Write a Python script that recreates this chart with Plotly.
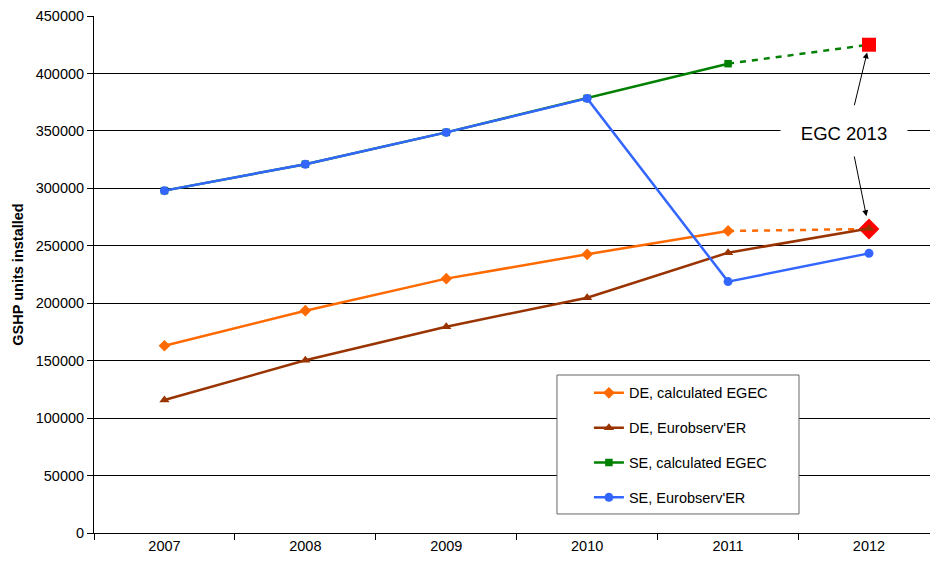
import plotly.graph_objects as go

years = ["2007", "2008", "2009", "2010", "2011", "2012"]
de_calc_egec = [163000, 193500, 221400, 242600, 262900]
de_eurobserver = [115800, 150300, 179600, 204800, 244000, 265000]
se_calc_egec = [298000, 321000, 348700, 378300, 408500]
se_eurobserver = [298000, 321000, 348700, 378300, 218800, 243400]
egc2013_year = "2012"
egc2013_se = 425000
egc2013_de = 264600

FONT = "Arial, Liberation Sans, sans-serif"
ORANGE = "#FF6A00"
BROWN = "#993300"
GREEN = "#008000"
BLUE = "#3366FF"
RED = "#FF0000"

fig = go.Figure()

# dashed extensions to EGC 2013
fig.add_trace(go.Scatter(x=[years[4], egc2013_year], y=[se_calc_egec[4], egc2013_se],
                         mode="lines", line=dict(color=GREEN, width=2.5, dash="6px,6px"),
                         showlegend=False, hoverinfo="skip"))
fig.add_trace(go.Scatter(x=[years[4], egc2013_year], y=[de_calc_egec[4], egc2013_de],
                         mode="lines", line=dict(color=ORANGE, width=2.5, dash="6px,6px"),
                         showlegend=False, hoverinfo="skip"))

fig.add_trace(go.Scatter(x=years[:5], y=de_calc_egec, name="DE, calculated EGEC",
                         mode="lines+markers", line=dict(color=ORANGE, width=2.5),
                         marker=dict(symbol="diamond", size=9, color=ORANGE),
                         legendgroup="a", legendrank=1))
fig.add_trace(go.Scatter(x=years[:5], y=se_calc_egec, name="SE, calculated EGEC",
                         mode="lines+markers", line=dict(color=GREEN, width=2.5),
                         marker=dict(symbol="square", size=7.5, color=GREEN),
                         legendgroup="c", legendrank=3))

# EGC 2013 points
fig.add_trace(go.Scatter(x=[egc2013_year], y=[egc2013_se], mode="markers",
                         marker=dict(symbol="square", size=14, color=RED),
                         showlegend=False))
fig.add_trace(go.Scatter(x=[egc2013_year], y=[egc2013_de], mode="markers",
                         marker=dict(symbol="diamond", size=16, color=RED),
                         showlegend=False))

fig.add_trace(go.Scatter(x=years, y=de_eurobserver, name="DE, Eurobserv'ER",
                         mode="lines+markers", line=dict(color=BROWN, width=2.5),
                         marker=dict(symbol="triangle-up", size=9, color=BROWN),
                         legendgroup="b", legendrank=2))
fig.add_trace(go.Scatter(x=years, y=se_eurobserver, name="SE, Eurobserv'ER",
                         mode="lines+markers", line=dict(color=BLUE, width=2.5),
                         marker=dict(symbol="circle", size=9, color=BLUE),
                         legendgroup="d", legendrank=4))

# legend frame
fig.add_shape(type="rect", xref="paper", yref="paper",
              x0=0.5538, x1=0.8433, y0=0.0368, y1=0.3056,
              line=dict(color="#666666", width=1), fillcolor="white", layer="above")

# EGC 2013 label with arrows
egc_idx = years.index(egc2013_year)
fig.add_annotation(x=egc_idx, y=egc2013_se, xref="x", yref="y",
                   ax=-15, ay=62, showarrow=True, arrowhead=2, arrowsize=1.2,
                   arrowwidth=1, arrowcolor="black", standoff=8, text="")
fig.add_annotation(x=egc_idx, y=egc2013_de, xref="x", yref="y",
                   ax=-15, ay=-74, showarrow=True, arrowhead=2, arrowsize=1.2,
                   arrowwidth=1, arrowcolor="black", standoff=13, text="")
fig.add_annotation(x=0.897, y=0.774, xref="paper", yref="paper", text="EGC 2013",
                   xanchor="center", yanchor="middle",
                   showarrow=False, bgcolor="white", width=124, height=30,
                   font=dict(family=FONT, size=18.5, color="black"))

fig.update_layout(
    width=930, height=562,
    margin=dict(l=94, r=0, t=16, b=29),
    paper_bgcolor="white", plot_bgcolor="white",
    font=dict(family=FONT, size=14.5, color="black"),
    legend=dict(x=0.592, y=0.302, xanchor="left", yanchor="top",
                bgcolor="rgba(0,0,0,0)", borderwidth=0, tracegroupgap=13,
                font=dict(family=FONT, size=14.5, color="black")),
    xaxis=dict(type="category", categoryorder="array", categoryarray=years,
               range=[-0.5, 5.433], showgrid=False,
               showline=True, linecolor="black", linewidth=1,
               ticks="outside", tickson="boundaries", ticklen=6, tickcolor="black",
               tickfont=dict(size=14.5)),
    yaxis=dict(range=[0, 450000], dtick=50000, showgrid=True, gridcolor="black",
               gridwidth=1, showline=True, linecolor="black", linewidth=1,
               ticks="outside", ticklen=6, tickcolor="black", zeroline=False,
               tickformat="d", tickfont=dict(size=14.5),
               title=dict(text="<b>GSHP units installed</b>", standoff=8,
                          font=dict(size=14.5))),
)

fig.write_html("out.html")
